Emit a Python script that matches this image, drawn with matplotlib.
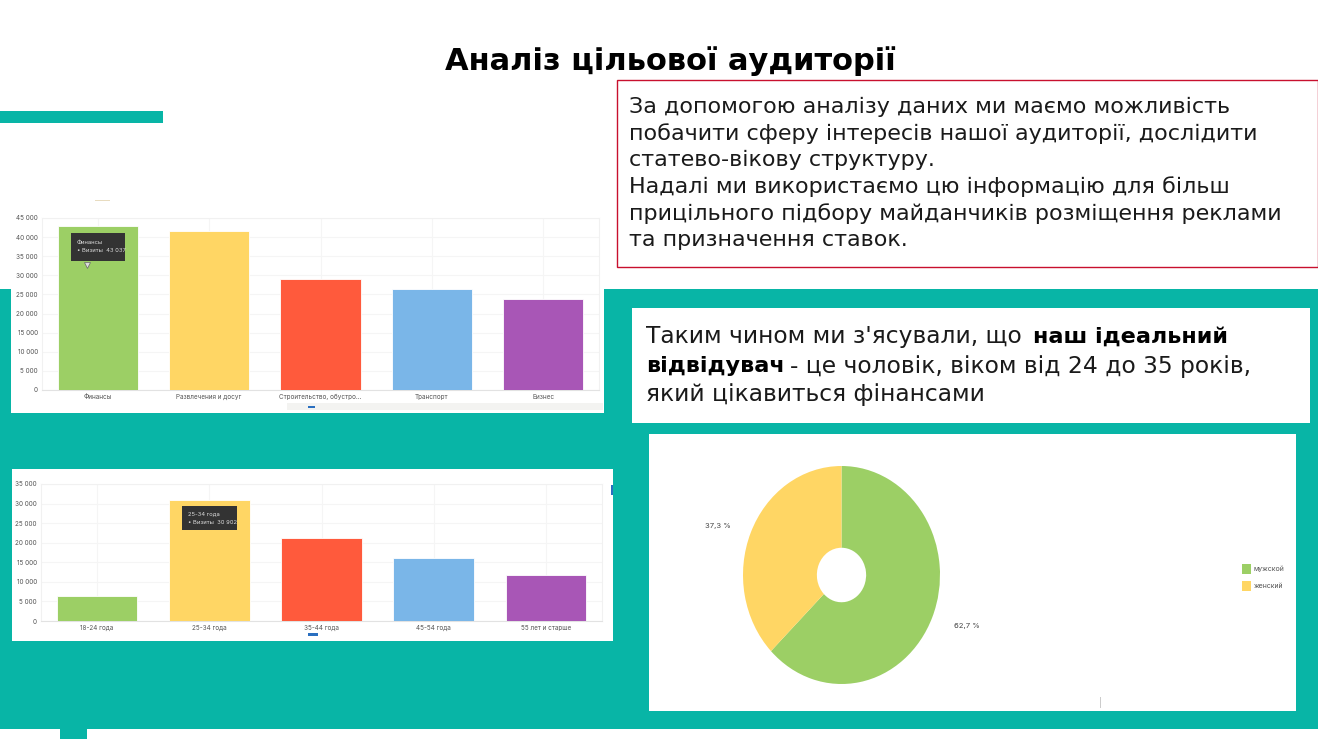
import matplotlib
matplotlib.use('Agg')
import matplotlib.pyplot as plt
from matplotlib.patches import Rectangle

W, H = 1318, 739
TEAL = '#08b5a6'
plt.rcParams['font.family'] = ['Inter', 'Noto Sans', 'DejaVu Sans']
SLIDE_FONT = 'DejaVu Sans'

# дані
title = 'Аналіз цільової аудиторії'
interest_labels = ['Финансы', 'Развлечения и досуг', 'Строительство, обустро...', 'Транспорт', 'Бизнес']
interest_values = [43037, 41600, 29000, 26500, 23700]
interest_ticks = [0, 5000, 10000, 15000, 20000, 25000, 30000, 35000, 40000, 45000]

age_labels = ['18-24 года', '25-34 года', '35-44 года', '45-54 года', '55 лет и старше']
age_values = [6400, 30902, 21300, 16000, 11700]
age_ticks = [0, 5000, 10000, 15000, 20000, 25000, 30000, 35000]

bar_colors = ['#9ccf65', '#ffd664', '#ff5a3c', '#7ab6e8', '#a856b6']

gender_labels = ['мужской', 'женский']
gender_values = [62.7, 37.3]
gender_colors = ['#9ccf65', '#ffd664']

text_top = [
    'За допомогою аналізу даних ми маємо можливість',
    'побачити сферу інтересів нашої аудиторії, дослідити',
    'статево-вікову структуру.',
    'Надалі ми використаємо цю інформацію для більш',
    'прицільного підбору майданчиків розміщення реклами',
    'та призначення ставок.',
]
text_top_y = [107, 134, 160, 187, 214, 240]


def px_axes(fig, x0, y0, x1, y1):
    # осі за пікселями, y рахуємо зверху
    return fig.add_axes([x0 / W, 1 - y1 / H, (x1 - x0) / W, (y1 - y0) / H])


def fmt(v):
    return f'{v:,}'.replace(',', ' ')


def bar_chart(fig, box, labels, values, ticks, ymax):
    ax = px_axes(fig, *box)
    ax.set_facecolor('white')
    x = range(len(values))
    ax.bar(x, values, width=0.72, color=bar_colors, edgecolor='white', linewidth=0.6, zorder=3)
    ax.set_xlim(-0.5, len(values) - 0.5)
    ax.set_ylim(0, ymax)
    ax.set_yticks(ticks)
    ax.set_yticklabels([fmt(t) for t in ticks])
    ax.set_xticks(list(x))
    ax.set_xticklabels(labels)
    ax.tick_params(length=0, labelsize=4.6, labelcolor='#555555', pad=3)
    ax.grid(True, color='#f5f5f5', linewidth=0.8, zorder=0)
    for s in ax.spines.values():
        s.set_color('#f1f1f1')
        s.set_linewidth(0.8)
    ax.spines['bottom'].set_color('#e2e2e2')
    return ax


fig = plt.figure(figsize=(W / 100, H / 100), dpi=100, facecolor='white')
bg = fig.add_axes([0, 0, 1, 1])
bg.set_xlim(0, W)
bg.set_ylim(H, 0)
bg.axis('off')


def rect(x0, y0, x1, y1, **kw):
    bg.add_patch(Rectangle((x0, y0), x1 - x0, y1 - y0, **kw))


# фон слайда
rect(0, 111, 163, 123, color=TEAL, lw=0)
rect(0, 289, W, 729, color=TEAL, lw=0)
rect(60, 729, 87, 739, color=TEAL, lw=0)
rect(616.5, 80, 1317.5, 267, facecolor='white', edgecolor='#c8102e', lw=1)
rect(632, 308, 1310, 423, color='white', lw=0)
rect(11, 190, 604, 413, color='white', lw=0)
rect(12, 469, 613, 641, color='white', lw=0)
rect(649, 434, 1296, 711, color='white', lw=0)
rect(287, 403, 603, 410, color='#f3f3f1', lw=0)
rect(308, 405.5, 315, 407.5, color='#2a6fc0', lw=0)
rect(308, 633, 318, 635.5, color='#2a6fc0', lw=0)
rect(611, 485, 613, 495, color='#2a6fc0', lw=0)
rect(95, 199.5, 110, 200.5, color='#e8dcc0', lw=0)
rect(1100, 697, 1101, 708, color='#cccccc', lw=0)

bg.text(670.5, 61, title, fontsize=22, fontweight='bold', ha='center', va='center',
        color='black', family=SLIDE_FONT)
for line, y in zip(text_top, text_top_y):
    bg.text(629, y, line, fontsize=16, va='center', color='#1a1a1a', family=SLIDE_FONT)

bg.text(646, 337, 'Таким чином ми з\'ясували, що', fontsize=16.8, va='center', color='#1a1a1a', family=SLIDE_FONT)
bg.text(1033, 337, 'наш ідеальний', fontsize=16.1, fontweight='bold', va='center', color='black', family=SLIDE_FONT)
bg.text(646, 366, 'відвідувач', fontsize=16.1, fontweight='bold', va='center', color='black', family=SLIDE_FONT)
bg.text(790, 366, '- це чоловік, віком від 24 до 35 років,', fontsize=16.8, va='center', color='#1a1a1a', family=SLIDE_FONT)
bg.text(646, 395, 'який цікавиться фінансами', fontsize=16.8, va='center', color='#1a1a1a', family=SLIDE_FONT)

# стовпчики: інтереси та вік
ax1 = bar_chart(fig, (42, 218, 599, 390), interest_labels, interest_values, interest_ticks, 45000)
ax2 = bar_chart(fig, (41, 484, 602, 621), age_labels, age_values, age_ticks, 35000)

# підказки
top = fig.add_axes([0, 0, 1, 1], facecolor='none')
top.set_xlim(0, W)
top.set_ylim(H, 0)
top.axis('off')
top.add_patch(Rectangle((71, 233), 54, 28, color='#333333', lw=0))
top.text(77, 242, 'Финансы', fontsize=4.2, color='#dddddd', va='center')
top.text(77, 251, '• Визиты  43 037', fontsize=4.2, color='#dddddd', va='center')
top.plot([87], [265], marker='v', ms=5, color='#dddddd', mec='#666666', mew=0.5)
top.add_patch(Rectangle((182, 506), 55, 24, color='#333333', lw=0))
top.text(188, 514, '25-34 года', fontsize=4.2, color='#dddddd', va='center')
top.text(188, 522, '• Визиты  30 902', fontsize=4.2, color='#dddddd', va='center')

# кільце
ax3 = px_axes(fig, 743, 466, 940, 684)
ax3.pie(gender_values, colors=gender_colors, startangle=90, counterclock=False, radius=1,
        wedgeprops=dict(width=0.75, edgecolor='none'))
ax3.set_aspect('auto')
ax3.set_xlim(-1, 1)
ax3.set_ylim(-1, 1)

top.text(718, 526, '37,3 %', fontsize=5.5, color='#444444', ha='center', va='center')
top.text(967, 626, '62,7 %', fontsize=5.5, color='#444444', ha='center', va='center')
for name, col, y in zip(gender_labels, gender_colors, [569, 586]):
    top.add_patch(Rectangle((1242, y - 5), 9, 10, color=col, lw=0))
    top.text(1254, y, name, fontsize=5, color='#555555', va='center')

fig.savefig('out.png', dpi=100)
